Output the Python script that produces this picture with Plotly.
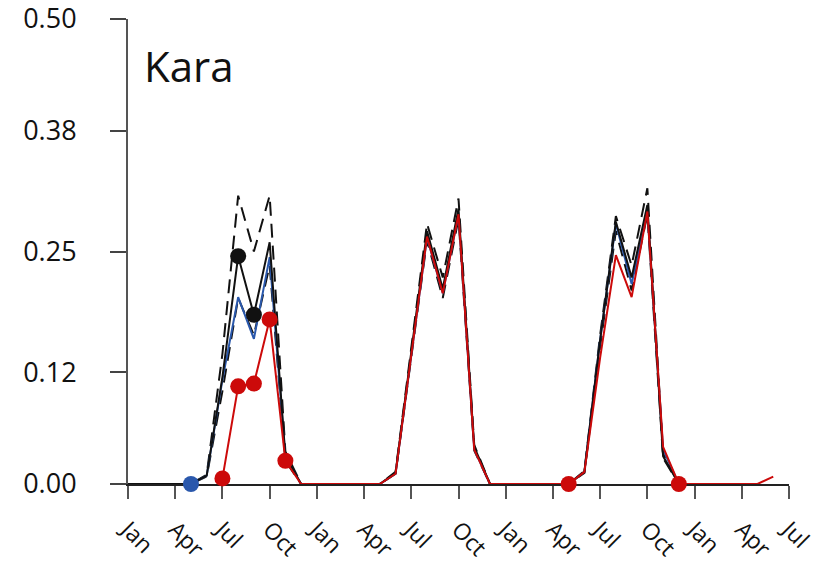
import plotly.graph_objects as go

# month index: 0 = Jan of year 1 ... 42 = Jul of year 4
tick_months = [0, 3, 6, 9, 12, 15, 18, 21, 24, 27, 30, 33, 36, 39, 42]
tick_labels = ["Jan", "Apr", "Jul", "Oct"] * 3 + ["Jan", "Apr", "Jul"]
y_ticks = [0.0, 0.12, 0.25, 0.38, 0.50]
y_labels = ["0.00", "0.12", "0.25", "0.38", "0.50"]

# black central estimate (m 0..40)
black_m = list(range(41))
black = [0, 0, 0, 0, 0, 0.009, 0.115, 0.245, 0.182, 0.260, 0.030, 0,
         0, 0, 0, 0, 0, 0.012, 0.140, 0.272, 0.210, 0.296, 0.040, 0,
         0, 0, 0, 0, 0, 0.013, 0.155, 0.282, 0.222, 0.300, 0.030, 0,
         0, 0, 0, 0, 0]
upper = [0, 0, 0, 0, 0, 0.010, 0.140, 0.310, 0.250, 0.310, 0.035, 0,
         0, 0, 0, 0, 0, 0.013, 0.145, 0.280, 0.222, 0.307, 0.042, 0,
         0, 0, 0, 0, 0, 0.014, 0.160, 0.288, 0.235, 0.318, 0.033, 0,
         0, 0, 0, 0, 0]
lower = [0, 0, 0, 0, 0, 0.008, 0.100, 0.200, 0.160, 0.235, 0.025, 0,
         0, 0, 0, 0, 0, 0.011, 0.135, 0.262, 0.200, 0.285, 0.036, 0,
         0, 0, 0, 0, 0, 0.012, 0.148, 0.272, 0.208, 0.290, 0.028, 0,
         0, 0, 0, 0, 0]

# blue series (m 4..40)
blue_m = list(range(4, 41))
blue = [0, 0.009, 0.112, 0.201, 0.156, 0.244, 0.029, 0,
        0, 0, 0, 0, 0, 0.011, 0.140, 0.265, 0.205, 0.290, 0.037, 0,
        0, 0, 0, 0, 0, 0.013, 0.155, 0.280, 0.215, 0.293, 0.037, 0,
        0, 0, 0, 0, 0]

# red series (m 6..41)
red_m = list(range(6, 42))
red = [0.006, 0.105, 0.108, 0.177, 0.025, 0,
       0, 0, 0, 0, 0, 0.011, 0.140, 0.266, 0.205, 0.290, 0.037, 0,
       0, 0, 0, 0, 0, 0.013, 0.136, 0.246, 0.201, 0.293, 0.040, 0,
       0, 0, 0, 0, 0, 0.008]

black_dot_m = [7, 8]
blue_dot_m = [4]
red_dot_m = [6, 7, 8, 9, 10, 28, 35]

BLACK = "#111111"
BLUE = "#2a58ac"
RED = "#cc0a0a"

fig = go.Figure()
fig.add_trace(go.Scatter(x=black_m, y=upper, mode="lines",
                         line=dict(color=BLACK, width=2, dash="14px,8px"), cliponaxis=False))
fig.add_trace(go.Scatter(x=black_m, y=lower, mode="lines",
                         line=dict(color=BLACK, width=2, dash="14px,8px"), cliponaxis=False))
fig.add_trace(go.Scatter(x=blue_m, y=blue, mode="lines",
                         line=dict(color=BLUE, width=2), cliponaxis=False))
fig.add_trace(go.Scatter(x=black_m, y=black, mode="lines",
                         line=dict(color=BLACK, width=2), cliponaxis=False))
fig.add_trace(go.Scatter(x=red_m, y=red, mode="lines",
                         line=dict(color=RED, width=2), cliponaxis=False))

def pick(ms, xs, ys):
    return [ys[xs.index(m)] for m in ms]

fig.add_trace(go.Scatter(x=black_dot_m, y=pick(black_dot_m, black_m, black), mode="markers",
                         marker=dict(color=BLACK, size=16), cliponaxis=False))
fig.add_trace(go.Scatter(x=blue_dot_m, y=pick(blue_dot_m, blue_m, blue), mode="markers",
                         marker=dict(color=BLUE, size=16), cliponaxis=False))
fig.add_trace(go.Scatter(x=red_dot_m, y=pick(red_dot_m, red_m, red), mode="markers",
                         marker=dict(color=RED, size=16), cliponaxis=False))

fig.add_annotation(text="Kara", xref="paper", yref="paper", x=0.021, y=0.901,
                   xanchor="left", yanchor="middle", showarrow=False,
                   font=dict(family="Open Sans", size=42, color="#111"))

# page body has an 8px margin, so the figure is sized to fit inside it
fig.update_layout(
    width=811, height=559,
    margin=dict(l=120, r=30, t=11, b=83, autoexpand=False),
    paper_bgcolor="white", plot_bgcolor="white",
    showlegend=False,
    font=dict(family="Open Sans", size=26, color="#111"),
    xaxis=dict(range=[0, 42.0001], tickvals=tick_months, ticktext=tick_labels,
               tickangle=45, showgrid=False, zeroline=False, automargin=False,
               showline=True, linecolor="#222", linewidth=2,
               ticks="outside", ticklen=13, tickwidth=2, tickcolor="#555",
               ticklabelstandoff=8, layer="below traces",
               ticklabeloverflow="allow", tickfont=dict(size=23)),
    yaxis=dict(range=[0, 0.50001], tickvals=y_ticks, ticktext=y_labels,
               showgrid=False, zeroline=False, automargin=False,
               showline=True, linecolor="#555", linewidth=2,
               ticks="outside", ticklen=16, tickwidth=2, tickcolor="#444",
               ticklabelstandoff=28, layer="below traces",
               ticklabeloverflow="allow", tickfont=dict(size=27)),
)

fig.write_html("out.html")
